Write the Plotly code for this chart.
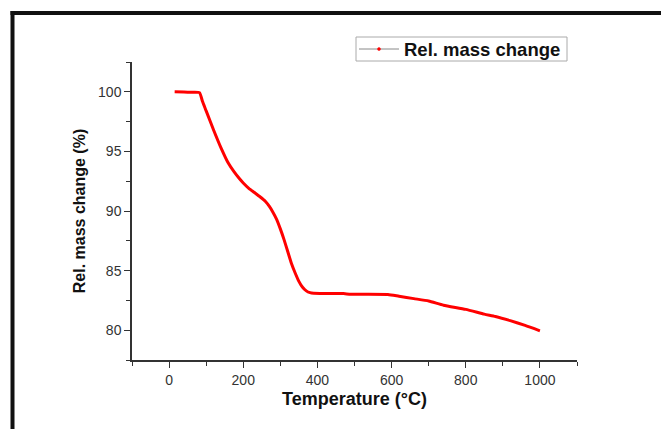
import plotly.graph_objects as go

# Data
temperature = [15, 40, 60, 82, 90, 100, 120, 140, 160, 175, 190, 200, 215, 230,
               245, 260, 270, 280, 290, 300, 310, 320, 330, 340, 350, 360, 370,
               380, 390, 420, 470, 490, 590, 620, 660, 700, 740, 800, 850, 880,
               920, 960, 1000]
rel_mass = [100.0, 99.98, 99.96, 99.93, 99.2, 98.4, 96.8, 95.3, 94.0, 93.3,
            92.7, 92.35, 91.9, 91.55, 91.2, 90.8, 90.4, 89.9, 89.3, 88.5,
            87.6, 86.6, 85.6, 84.8, 84.1, 83.6, 83.3, 83.15, 83.1, 83.08,
            83.07, 83.02, 83.0, 82.85, 82.65, 82.45, 82.1, 81.75, 81.35, 81.15,
            80.8, 80.4, 79.95]

series_name = "Rel. mass change"
x_title = "Temperature (°C)"
y_title = "Rel. mass change (%)"

FONT = "Arial, Liberation Sans, sans-serif"

fig = go.Figure()
fig.add_trace(go.Scatter(
    x=temperature, y=rel_mass, mode="lines", name=series_name,
    line=dict(color="#ff0000", width=3, shape="spline", smoothing=0.5),
    showlegend=False, hoverinfo="x+y",
))

W, H = 661, 429
ml, mr, mt, mb = 132, 84, 62, 69
pw = W - ml - mr
ph = H - mt - mb

def px_x(px):
    return (px - ml) / pw

def px_y(py):
    return (H - mb - py) / ph

axis_common = dict(
    showline=True, linecolor="#333333", linewidth=1.5,
    ticks="outside", ticklen=6, tickwidth=1.2, tickcolor="#333333",
    showgrid=False, zeroline=False,
    tickfont=dict(family=FONT, size=14, color="#333333"),
)

# Origin-style legend box drawn in the paper frame
lg_left, lg_right, lg_top, lg_bot = 356, 567, 37, 61
lg_mid = (lg_top + lg_bot) / 2

fig.update_layout(
    width=W, height=H,
    margin=dict(l=ml, r=mr, t=mt, b=mb),
    paper_bgcolor="white", plot_bgcolor="white",
    font=dict(family=FONT),
    showlegend=False,
    xaxis=dict(
        range=[-100, 1100], tick0=0, dtick=200,
        minor=dict(dtick=100, tick0=0, ticks="outside", ticklen=4,
                   tickcolor="#333333", tickwidth=1.2),
        title=dict(text=f"<b>{x_title}</b>", font=dict(family=FONT, size=18, color="#111111"),
                   standoff=6),
        **axis_common,
    ),
    yaxis=dict(
        range=[77.5, 102.5], tick0=80, dtick=5,
        minor=dict(dtick=2.5, tick0=77.5, ticks="outside", ticklen=4,
                   tickcolor="#333333", tickwidth=1.2),
        title=dict(text=f"<b>{y_title}</b>", font=dict(family=FONT, size=16, color="#111111"),
                   standoff=8),
        **axis_common,
    ),
    shapes=[
        # page frame
        dict(type="line", xref="paper", yref="paper",
             x0=px_x(10.5), x1=px_x(680), y0=px_y(13), y1=px_y(13),
             line=dict(color="#111111", width=4)),
        dict(type="line", xref="paper", yref="paper",
             x0=px_x(12.5), x1=px_x(12.5), y0=px_y(11), y1=px_y(450),
             line=dict(color="#111111", width=4)),
        # legend box
        dict(type="rect", xref="paper", yref="paper",
             x0=px_x(lg_left), x1=px_x(lg_right), y0=px_y(lg_bot), y1=px_y(lg_top),
             line=dict(color="#aaaaaa", width=1), fillcolor="white", layer="above"),
        dict(type="line", xref="paper", yref="paper",
             x0=px_x(lg_left + 3), x1=px_x(lg_left + 43), y0=px_y(lg_mid), y1=px_y(lg_mid),
             line=dict(color="#888888", width=1), layer="above"),
        dict(type="circle", xref="paper", yref="paper",
             x0=px_x(lg_left + 21.5), x1=px_x(lg_left + 24.5),
             y0=px_y(lg_mid + 1.5), y1=px_y(lg_mid - 1.5),
             line=dict(color="#ff0000", width=0.5), fillcolor="#ff0000", layer="above"),
    ],
    annotations=[
        dict(text=f"<b>{series_name}</b>", xref="paper", yref="paper",
             x=px_x(lg_left + 46), y=px_y(lg_mid), xanchor="left", yanchor="middle",
             showarrow=False, font=dict(family=FONT, size=18.5, color="#111111")),
    ],
)

fig.write_html("out.html")
